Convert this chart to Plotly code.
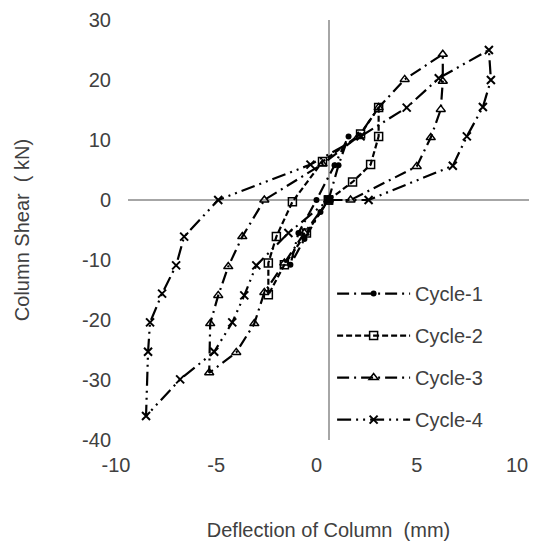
import plotly.graph_objects as go

# Cycle-1
c1_x = [0, 0.5, 1.0, 0.3, -0.6, -1.5, -1.9, -1.2, -0.4, 0]
c1_y = [0, 5.8, 10.6, 5.8, 0, -5.5, -10.8, -6.5, -2.0, 0]

# Cycle-2
c2_x = [0, 1.2, 2.1, 2.5, 2.5, 1.6, -0.3, -1.8, -2.6, -3.0, -3.0, -2.2, -1.1, 0]
c2_y = [0, 3.0, 5.9, 10.6, 15.4, 11.0, 6.4, -0.3, -6.1, -10.5, -15.8, -10.8, -5.5, 0]

# Cycle-3
c3_x = [0, 1.1, 4.4, 5.1, 5.6, 5.7, 5.7, 3.8, 2.5, 1.5, -0.3, -3.2, -4.3, -5.0, -5.5, -5.9, -5.95,
        -4.6, -3.7, -3.2, -2.2, -1.2, 0]
c3_y = [0, 0, 5.6, 10.4, 15.1, 19.8, 24.3, 20.1, 15.4, 10.6, 6.0, 0, -6.1, -11.1, -15.9, -20.6, -28.8,
        -25.4, -20.6, -15.4, -10.5, -5.5, 0]

# Cycle-4
c4_x = [0, 2.0, 6.2, 6.9, 7.7, 8.1, 8.0, 5.5, 3.9, 1.6, -0.9, -5.5, -7.2, -7.6, -8.3, -8.9, -9.0, -9.1,
        -7.4, -5.7, -4.8, -4.2, -3.6, -2.0, 0]
c4_y = [0, 0, 5.7, 10.6, 15.5, 20.0, 25.0, 20.3, 15.4, 10.6, 5.9, 0, -6.1, -10.9, -15.6, -20.4, -25.3, -36.0,
        -29.9, -25.3, -20.4, -15.9, -10.9, -5.5, 0]

x_ticks = [-10, -5, 0, 5, 10]
x_tick_text = ["-10", "-5", "0", "5", "10"]
y_ticks = [30, 20, 10, 0, -10, -20, -30, -40]
y_tick_text = ["30", "20", "10", "0", "-10", "-20", "-30", "-40"]

series = [
    ("Cycle-1", c1_x, c1_y, "12px,5px,2px,5px", dict(symbol="circle", size=6, color="black")),
    ("Cycle-2", c2_x, c2_y, "6px,3px", dict(symbol="square-open", size=8, color="black", line=dict(width=1.5, color="black"))),
    ("Cycle-3", c3_x, c3_y, "12px,5px,2px,5px", dict(symbol="triangle-up-open", size=8, color="black", line=dict(width=1.5, color="black"))),
    ("Cycle-4", c4_x, c4_y, "14px,5px,2px,5px,2px,5px", dict(symbol="x-thin-open", size=8, color="black", line=dict(width=2, color="black"))),
]

fig = go.Figure()
for i, (name, xs, ys, dash, mk) in enumerate(series):
    fig.add_trace(go.Scatter(
        x=xs, y=ys, mode="lines+markers", name=name, legendgroup=f"g{i}",
        line=dict(color="black", width=2.2, dash=dash),
        marker=mk,
    ))

font_fam = "Liberation Sans, Arial, sans-serif"
fig.update_layout(
    width=533, height=536,
    margin=dict(l=120, r=12, t=12, b=104, autoexpand=False),
    paper_bgcolor="white", plot_bgcolor="white",
    font=dict(family=font_fam, size=20, color="#404040"),
    legend=dict(x=0.509, y=0.395, xanchor="left", yanchor="top",
                bgcolor="rgba(0,0,0,0)", font=dict(size=20, color="#404040"),
                itemwidth=73, tracegroupgap=13),
)
fig.update_xaxes(
    range=[-10, 10], tickvals=x_ticks, ticktext=x_tick_text, showgrid=False, showline=False, ticks="",
    zeroline=True, zerolinecolor="#a6a6a6", zerolinewidth=1.5, automargin=False,
    tickfont=dict(size=20, color="#404040"), ticklabelstandoff=11, ticklabelshift=-12,
    title=dict(text="Deflection of Column  (mm)", standoff=47, font=dict(size=20, color="#404040")),
)
fig.update_yaxes(
    range=[-40, 30], tickvals=y_ticks, ticktext=y_tick_text, showgrid=False, showline=False, ticks="",
    zeroline=True, zerolinecolor="#a6a6a6", zerolinewidth=1.5, automargin=False,
    tickfont=dict(size=20, color="#404040"), ticklabelstandoff=16,
    title=dict(text="Column Shear  ( kN)", standoff=47, font=dict(size=20, color="#404040")),
)

fig.write_html("out.html")
